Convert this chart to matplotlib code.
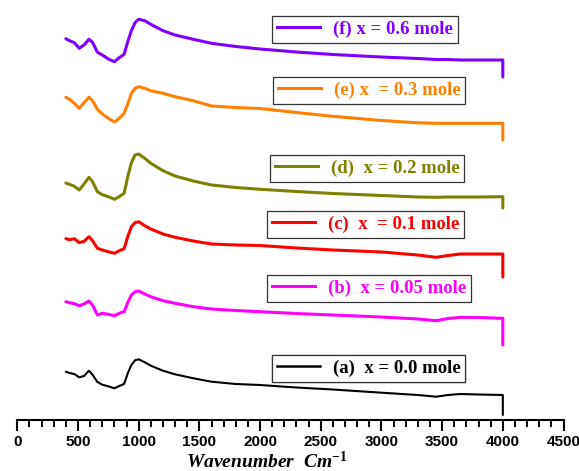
import matplotlib
matplotlib.use("Agg")
import matplotlib.pyplot as plt
from matplotlib.lines import Line2D

plt.rcParams["mathtext.fontset"] = "custom"
plt.rcParams["mathtext.rm"] = "Liberation Serif:bold"
plt.rcParams["mathtext.it"] = "Liberation Serif:bold:italic"
plt.rcParams["mathtext.bf"] = "Liberation Serif:bold"

# wavenumber grid (cm-1); last point repeated = the drop at 4000
wn = [400, 430, 470, 510, 550, 590, 620, 660, 700, 750,
      800, 840, 880, 910, 940, 970, 1000, 1050, 1100, 1200,
      1300, 1450, 1600, 1800, 2000, 2300, 2600, 3000, 3300, 3450,
      3550, 3650, 3800, 4000, 4000]

# stacked spectra (offset, arbitrary units)
f_06 = [38.13, 37.93, 37.73, 37.17, 37.5, 38.07, 37.77, 36.77, 36.5, 36.1,
        35.83, 36.23, 36.57, 37.83, 38.93, 39.73, 40.07, 39.93, 39.57, 38.93,
        38.5, 38.07, 37.67, 37.35, 37.1, 36.8, 36.55, 36.3, 36.15, 36.05,
        36.05, 36.0, 36.0, 36.0, 34.3]
e_03 = [32.27, 32.07, 31.67, 31.17, 31.73, 32.27, 31.93, 31.07, 30.6, 30.17,
        29.8, 30.17, 30.67, 31.6, 32.67, 33.17, 33.33, 33.17, 32.93, 32.67,
        32.33, 31.93, 31.4, 31.25, 31.15, 30.75, 30.37, 29.95, 29.72, 29.67,
        29.67, 29.67, 29.67, 29.67, 28.0]
d_02 = [23.7, 23.57, 23.37, 23.0, 23.6, 24.27, 23.83, 22.83, 22.53, 22.33,
        22.07, 22.33, 22.67, 24.33, 25.73, 26.5, 26.6, 26.17, 25.67, 24.93,
        24.4, 23.9, 23.5, 23.25, 23.07, 22.85, 22.65, 22.45, 22.3, 22.27,
        22.3, 22.3, 22.3, 22.33, 21.2]
c_01 = [18.13, 18.03, 18.13, 17.73, 17.87, 18.33, 17.93, 17.17, 17.0, 16.83,
        16.67, 16.93, 17.13, 18.33, 19.33, 19.73, 19.83, 19.43, 19.1, 18.6,
        18.27, 17.9, 17.6, 17.5, 17.45, 17.2, 17.0, 16.8, 16.5, 16.27,
        16.45, 16.6, 16.6, 16.6, 14.3]
b_005 = [11.83, 11.73, 11.63, 11.43, 11.6, 11.9, 11.5, 10.5, 10.67, 10.57,
         10.43, 10.67, 10.83, 11.73, 12.5, 12.83, 12.9, 12.6, 12.33, 11.93,
         11.67, 11.33, 11.1, 10.95, 10.83, 10.65, 10.5, 10.3, 10.1, 9.93,
         10.15, 10.27, 10.25, 10.17, 7.5]
a_00 = [4.83, 4.7, 4.6, 4.27, 4.4, 4.93, 4.53, 3.8, 3.53, 3.37,
        3.17, 3.4, 3.6, 4.67, 5.5, 5.97, 6.07, 5.77, 5.43, 4.93,
        4.57, 4.17, 3.83, 3.6, 3.5, 3.25, 3.05, 2.73, 2.5, 2.33,
        2.5, 2.6, 2.55, 2.5, 0.5]

series = [f_06, e_03, d_02, c_01, b_005, a_00]
labels = ["(f) x = 0.6 mole", "(e) x  = 0.3 mole", "(d)  x = 0.2 mole",
          "(c)  x  = 0.1 mole", "(b)  x = 0.05 mole", "(a)  x = 0.0 mole"]
colors = ["#8000FF", "#FF8000", "#808000", "#FF0000", "#FF00FF", "#000000"]
widths = [2.2, 2.2, 2.2, 2.2, 2.2, 1.5]
# legend box top-left corners (pixels)
box_pos = [(272, 16), (273, 77), (270, 155), (267, 211), (267, 275), (272, 355)]

W, H = 579, 471
fig = plt.figure(figsize=(W / 100, H / 100), dpi=100)
ax = fig.add_axes([17.3 / W, (H - 420) / H, (563.5 - 17.3) / W, 420 / H])

for y, lab, c, lw, (bx, by) in zip(series, labels, colors, widths, box_pos):
    ax.plot(wn, y, color=c, lw=lw, solid_capstyle="round", solid_joinstyle="round")
    h = Line2D([], [], color=c, lw=2.2 if lw > 2 else 1.8)
    leg = ax.legend(handles=[h], labels=[lab], loc="upper left",
                    bbox_to_anchor=(bx / W, 1 - by / H), bbox_transform=fig.transFigure,
                    borderaxespad=0, fancybox=False, framealpha=1, edgecolor="#333333",
                    handlelength=2.3, handletextpad=0.7, borderpad=0.25,
                    labelcolor="linecolor",
                    prop={"family": "Liberation Serif", "weight": "bold", "size": 13.5})
    leg.get_frame().set_linewidth(0.9)
    ax.add_artist(leg)

ax.set_xlim(0, 4500)
ax.set_ylim(0, 42)
ax.set_xticks(range(0, 4501, 500))
ax.set_xticks(range(0, 4501, 100), minor=True)
ax.tick_params(axis="x", which="major", direction="out", length=8, width=1.5, pad=3)
ax.tick_params(axis="x", which="minor", direction="out", length=5, width=1.5)
for t in ax.get_xticklabels():
    t.set_fontfamily("Liberation Sans")
    t.set_fontweight("bold")
    t.set_fontsize(11)
ax.set_yticks([])
for s in ["left", "right", "top"]:
    ax.spines[s].set_visible(False)
ax.spines["bottom"].set_linewidth(1.5)
ax.set_xlabel("Wavenumber  Cm$^{-1}$", fontfamily="Liberation Serif", fontweight="bold",
              fontstyle="italic", fontsize=14, va="center")
ax.xaxis.set_label_coords(0.457, -0.098)

fig.savefig("out.png", dpi=100)
